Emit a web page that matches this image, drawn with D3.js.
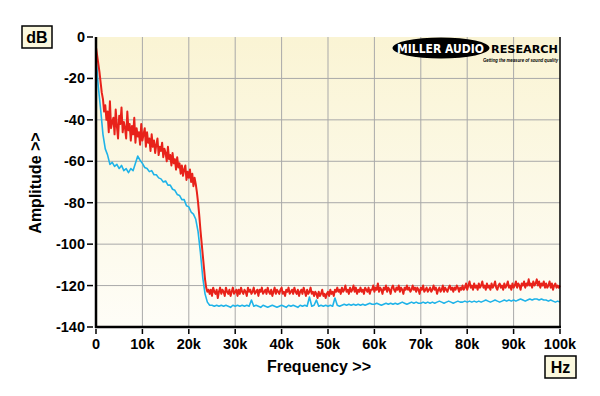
<!DOCTYPE html>
<html lang="en">
<head>
    <meta charset="UTF-8">
    <title>Amplitude vs Frequency</title>
    <script src="https://d3js.org/d3.v7.min.js"></script>
    <style>
        body { margin: 0; background: #fff; }
        text { font-family: "Liberation Sans", Arial, sans-serif; font-weight: bold; }
    </style>
</head>
<body>
    <script>
        // Tick labels
        const xTicks = [0, 10000, 20000, 30000, 40000, 50000, 60000, 70000, 80000, 90000, 100000];
        const xTickLabels = ["0", "10k", "20k", "30k", "40k", "50k", "60k", "70k", "80k", "90k", "100k"];
        const yTicks = [0, -20, -40, -60, -80, -100, -120, -140];

        // Red trace, one value every 250 Hz from 0 Hz (dB)
        const redStepHz = 250;
        const redValues = [
            -5, -9, -13, -17, -22, -27, -30, -36,
            -33, -40, -36, -46, -31, -44, -41, -39, -47, -35, -43, -49, -38, -42, -34, -46,
            -41, -44, -49, -36, -45, -42, -50, -43, -47, -39, -51, -44, -48, -46, -52, -42,
            -50, -47, -44, -53, -46, -51, -49, -55, -47, -53, -50, -56, -52, -49, -57, -53,
            -55, -51, -58, -54, -56, -60, -53, -59, -57, -62, -56, -61, -59, -64, -58, -63,
            -61, -66, -62, -67, -64, -62, -69, -65, -68, -64, -70, -66, -72, -68, -71,
            -75, -80, -86, -93, -99, -105, -111, -117, -121,
            -123, -122,
            -124, -122, -125, -121, -123, -124, -122, -126, -123, -121,
            -124, -122, -123, -125, -121, -123, -124, -122, -125, -123,
            -121, -124, -123, -122, -125, -122, -124, -121, -123, -124,
            -122, -123, -125, -121, -123, -122, -124, -123, -121, -124,
            -123, -122, -125, -122, -123, -121, -124, -123, -122, -124,
            -121, -123, -124, -122, -125, -123, -121, -124, -122, -123,
            -124, -122, -121, -124, -123, -125, -122, -123, -121, -124,
            -123, -122, -124, -121, -123, -124, -122, -125, -123, -122,
            -124, -121, -123, -125, -122, -124, -123, -121, -124, -123,
            -125, -123, -124, -126, -123, -125, -124, -122, -125, -124,
            -126, -124, -123, -125, -122, -124, -123, -125, -122, -123,
            -121, -123, -122, -124, -121, -123, -122, -120, -123, -122,
            -124, -121, -123, -122, -120, -123, -121, -124, -122, -123,
            -121, -123, -122, -124, -121, -122, -123, -121, -124, -122,
            -122, -120, -123, -121, -122, -119, -123, -121, -122, -124,
            -121, -122, -120, -123, -121, -122, -124, -121, -120, -122,
            -123, -121, -122, -120, -123, -121, -122, -124, -121, -122,
            -120, -122, -121, -123, -122, -120, -122, -121, -123, -121,
            -122, -124, -121, -122, -120, -123, -122, -121, -123, -122,
            -121, -123, -122, -120, -122, -121, -124, -122, -121, -123,
            -122, -120, -123, -121, -122, -123, -121, -120, -122, -121,
            -123, -121, -122, -120, -121, -123, -121, -122, -120, -122,
            -121, -119, -122, -120, -118, -121, -120, -122, -119, -121,
            -120, -122, -119, -121, -120, -118, -121, -120, -122, -119,
            -121, -120, -122, -119, -121, -120, -118, -121, -122, -120,
            -119, -121, -120, -122, -119, -121, -120, -118, -121, -120,
            -122, -119, -121, -120, -118, -121, -119, -120, -122, -119,
            -120, -118, -121, -119, -120, -117, -120, -119, -121, -118,
            -120, -119, -117, -120, -118, -121, -119, -120, -118, -121,
            -119, -121, -120, -118, -121, -119, -122, -120, -119, -121,
            -120, -121, -120
        ];

        // Blue trace, one value every 500 Hz from 0 Hz (dB)
        const blueStepHz = 500;
        const blueValues = [
            -10, -24, -35, -47,
            -54, -57, -61.5, -60.5, -62.5, -61.5, -63.5, -62, -64.5, -63.5, -65.5, -63.5,
            -64.5, -61, -57.5, -59.5, -61, -63, -63.5, -65, -64.5, -66.5, -66.5, -68,
            -68.5, -70, -69.5, -71.5, -71.5, -73.5, -74, -76, -76.5, -78.5, -78.5, -81.5,
            -82, -84.5, -85.5, -88,
            -94, -104, -116, -124, -128, -129.5,
            -129.5, -130, -129.5, -130, -129.5, -130, -129.5, -130, -130.5, -129.5,
            -130, -129.5, -130, -129.5, -130, -129.5, -130, -127, -130, -129.5,
            -130, -130.5, -129.5, -130, -130.5, -130, -129.5, -130, -130.5, -130,
            -129.5, -130, -130.5, -129.5, -130, -129.5, -130, -130.5, -129.5, -130,
            -129.5, -130, -125.5, -130, -129.5, -127, -130, -129.5, -130, -129.5,
            -130, -129.5, -130, -126, -129.5, -130, -129.5, -129, -129.5, -129,
            -129.5, -129, -129.5, -129, -129.5, -129, -129.5, -129, -128.5, -129,
            -129, -128.5, -129, -129.5, -129, -128.5, -129, -128.5, -129, -128.5,
            -129, -128.5, -128, -128.5, -129, -128.5, -128, -128.5, -128, -128.5,
            -128.5, -128, -128.5, -128, -128.5, -128, -128.5, -128, -127.5, -128,
            -128.5, -128, -127.5, -128, -128.5, -128, -127.5, -128, -128, -127.5,
            -128, -127.5, -128, -127.5, -128, -127.5, -128, -127.5, -127, -127.5,
            -128, -127.5, -127, -127.5, -128, -127.5, -127, -127.5, -127, -127.5,
            -127, -127.5, -127, -126.5, -127, -127.5, -127, -126.5, -127, -126.5,
            -126.5, -127, -126.5, -127, -127, -127.5, -127, -127.5, -128, -127.5,
            -128
        ];

        const width = 600, height = 396;
        const svg = d3.select("body").append("svg")
            .attr("width", width)
            .attr("height", height);

        const x = d3.scaleLinear().domain([0, 100000]).range([96, 560]);
        const y = d3.scaleLinear().domain([-140, 0]).range([327, 37]);

        // background gradient
        const grad = svg.append("defs").append("linearGradient")
            .attr("id", "bg").attr("x1", 0).attr("y1", 0).attr("x2", 0).attr("y2", 1);
        grad.append("stop").attr("offset", "0%").attr("stop-color", "#faf4d4");
        grad.append("stop").attr("offset", "100%").attr("stop-color", "#fefdf7");

        svg.append("rect")
            .attr("x", x(0)).attr("y", y(0))
            .attr("width", x(100000) - x(0)).attr("height", y(-140) - y(0))
            .attr("fill", "url(#bg)");

        // grid
        svg.append("g").selectAll("line")
            .data(xTicks.slice(1, -1))
            .enter().append("line")
            .attr("x1", d => x(d)).attr("x2", d => x(d))
            .attr("y1", y(0)).attr("y2", y(-140))
            .attr("stroke", "#a9a9a9").attr("stroke-width", 1);
        svg.append("g").selectAll("line")
            .data(yTicks.slice(1, -1))
            .enter().append("line")
            .attr("x1", x(0)).attr("x2", x(100000))
            .attr("y1", d => y(d)).attr("y2", d => y(d))
            .attr("stroke", "#a9a9a9").attr("stroke-width", 1);

        // logo
        const logo = svg.append("g");
        logo.append("ellipse").attr("cx", 441).attr("cy", 48).attr("rx", 48.5).attr("ry", 10.5).attr("fill", "#000");
        logo.append("text").attr("x", 397).attr("y", 52.5)
            .attr("textLength", 87).attr("lengthAdjust", "spacingAndGlyphs")
            .style("font-family", "'DejaVu Sans', sans-serif")
            .style("font-size", "11.5px").attr("fill", "#fff").text("MILLER AUDIO");
        logo.append("text").attr("x", 491).attr("y", 52.5)
            .attr("textLength", 67).attr("lengthAdjust", "spacingAndGlyphs")
            .style("font-family", "'DejaVu Sans', sans-serif")
            .style("font-size", "11px").attr("fill", "#000").text("RESEARCH");
        logo.append("text").attr("x", 483).attr("y", 61.5)
            .attr("textLength", 75).attr("lengthAdjust", "spacingAndGlyphs")
            .style("font-size", "4.5px").style("font-style", "italic").attr("fill", "#000")
            .text("Getting the measure of sound quality");

        // traces
        const line = d3.line()
            .x(d => x(d[0]))
            .y(d => y(d[1]));

        const blueData = blueValues.map((v, i) => [i * blueStepHz, v]).filter(d => d[0] <= 100000);
        const redData = redValues.map((v, i) => [i * redStepHz, v]).filter(d => d[0] <= 100000);

        svg.append("path").datum(blueData)
            .attr("d", line).attr("fill", "none")
            .attr("stroke", "#1fb3e8").attr("stroke-width", 1.6)
            .attr("stroke-linejoin", "round");
        svg.append("path").datum(redData)
            .attr("d", line).attr("fill", "none")
            .attr("stroke", "#e8221a").attr("stroke-width", 2)
            .attr("stroke-linejoin", "round");

        // frame
        svg.append("line").attr("x1", x(100000)).attr("x2", x(100000))
            .attr("y1", y(0)).attr("y2", y(-140))
            .attr("stroke", "#000").attr("stroke-width", 1.5);
        svg.append("line").attr("x1", x(0)).attr("x2", x(0))
            .attr("y1", y(0)).attr("y2", y(-140) + 1)
            .attr("stroke", "#000").attr("stroke-width", 2.5);
        svg.append("line").attr("x1", x(0) - 1).attr("x2", x(100000) + 1)
            .attr("y1", y(-140)).attr("y2", y(-140))
            .attr("stroke", "#000").attr("stroke-width", 2.5);

        // y axis ticks and labels
        const yAxis = svg.append("g");
        yAxis.selectAll("line").data(yTicks).enter().append("line")
            .attr("x1", 87).attr("x2", 93)
            .attr("y1", d => y(d)).attr("y2", d => y(d))
            .attr("stroke", "#000").attr("stroke-width", 1.5);
        yAxis.selectAll("text").data(yTicks).enter().append("text")
            .attr("x", 85).attr("y", d => y(d) + 5)
            .attr("text-anchor", "end")
            .style("font-size", "14.5px")
            .text(d => d);

        // x axis ticks and labels
        const xAxis = svg.append("g");
        xAxis.selectAll("line").data(xTicks).enter().append("line")
            .attr("x1", d => x(d)).attr("x2", d => x(d))
            .attr("y1", 329).attr("y2", 334)
            .attr("stroke", "#000").attr("stroke-width", 1.5);
        xAxis.selectAll("text").data(xTicks).enter().append("text")
            .attr("x", d => x(d)).attr("y", 349)
            .attr("text-anchor", "middle")
            .style("font-size", "14.5px")
            .text((d, i) => xTickLabels[i]);

        // axis titles
        svg.append("text").attr("x", 319).attr("y", 372)
            .attr("text-anchor", "middle").style("font-size", "16px")
            .text("Frequency >>");
        svg.append("text")
            .attr("transform", "translate(41,183) rotate(-90)")
            .attr("text-anchor", "middle").style("font-size", "16px")
            .text("Amplitude >>");

        // unit boxes
        function unitBox(bx, by, bw, bh, label) {
            svg.append("rect").attr("x", bx).attr("y", by).attr("width", bw).attr("height", bh)
                .attr("fill", "#fbf8de").attr("stroke", "#000").attr("stroke-width", 1.5);
            svg.append("text").attr("x", bx + bw / 2).attr("y", by + bh / 2 + 6)
                .attr("text-anchor", "middle").style("font-size", "16px").text(label);
        }
        unitBox(22, 26, 30, 22, "dB");
        unitBox(545, 356, 31, 22, "Hz");
    </script>
</body>
</html>
